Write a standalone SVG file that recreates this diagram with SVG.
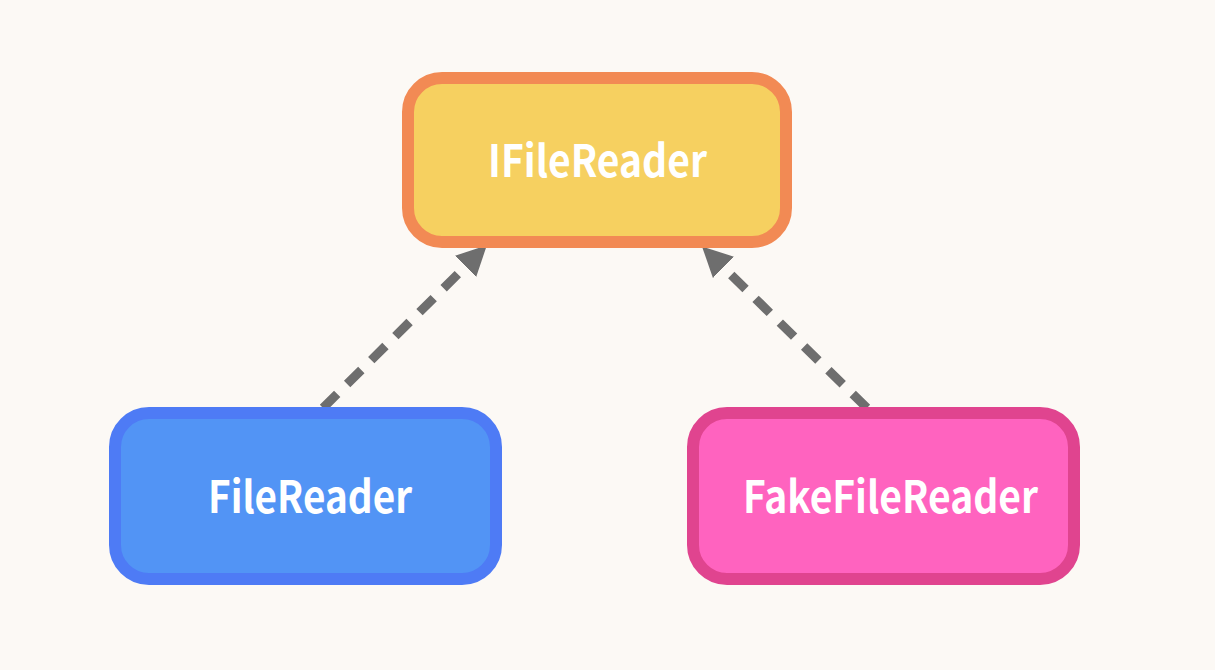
<svg xmlns="http://www.w3.org/2000/svg" width="1215" height="670" viewBox="0 0 1215 670">
<style>
.lbl{font-family:"Noto Sans CJK JP","Noto Sans",sans-serif;font-weight:700;font-size:44px;fill:#FFFFFF;text-anchor:middle}
.conn{stroke:#6E6E6E;stroke-width:9;stroke-dasharray:20 14;fill:none}
</style>
<defs>
<marker id="ah" markerUnits="userSpaceOnUse" markerWidth="32" markerHeight="32" viewBox="0 0 32 32" refX="2" refY="16" orient="auto">
<path d="M0,1 L30,16 L0,31 z" fill="#6E6E6E"/>
</marker>
</defs>
<rect width="1215" height="670" fill="#FCF9F5"/>
<g id="connectors">
<line class="conn" x1="323" y1="408" x2="467" y2="265" marker-end="url(#ah)"/>
<line class="conn" x1="867" y1="408" x2="722" y2="266" marker-end="url(#ah)"/>
</g>
<g id="ifilereader">
<rect x="408" y="78" width="378" height="164" rx="34" fill="#F6D060" stroke="#F28A54" stroke-width="12"/>
<text class="lbl" x="597.5" y="177" textLength="219" lengthAdjust="spacingAndGlyphs">IFileReader</text>
</g>
<g id="filereader">
<rect x="115" y="413" width="381" height="166" rx="34" fill="#5294F5" stroke="#4E7BF5" stroke-width="12"/>
<text class="lbl" x="310" y="513" textLength="204" lengthAdjust="spacingAndGlyphs">FileReader</text>
</g>
<g id="fakefilereader">
<rect x="693" y="413" width="381" height="166" rx="34" fill="#FF63BF" stroke="#E0448F" stroke-width="12"/>
<text class="lbl" x="890.5" y="513" textLength="295" lengthAdjust="spacingAndGlyphs">FakeFileReader</text>
</g>
</svg>
